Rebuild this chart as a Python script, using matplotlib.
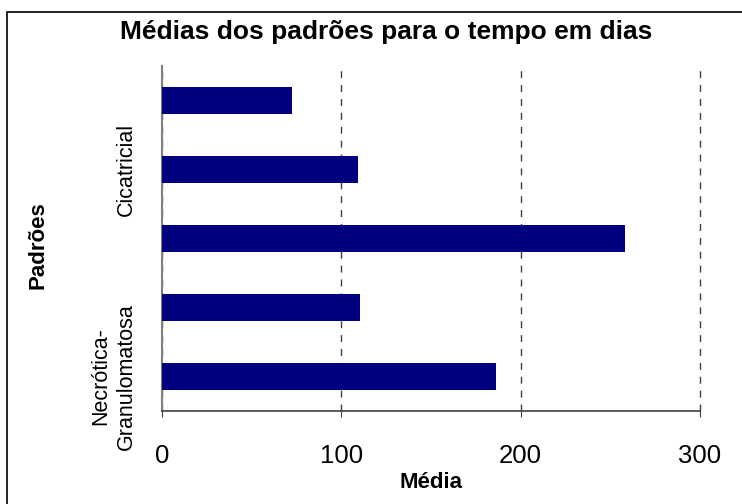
import numpy as np
import matplotlib.pyplot as plt
from matplotlib.patches import Rectangle

plt.rcParams['font.family'] = ['Liberation Sans', 'DejaVu Sans']

# categories from bottom to top (only two labels are shown in the original)
padroes = ['Necrótica-\nGranulomatosa', '', '', 'Cicatricial', '']
medias = [186, 110.5, 258, 109.5, 72.5]

fig = plt.figure(figsize=(7.42, 5.04), dpi=100)
ax = fig.add_axes([162 / 742, 1 - 411 / 504, (700 - 162) / 742, (411 - 66) / 504])

y = np.arange(len(padroes))
ax.barh(y, medias, height=0.4, color='#000080', zorder=3)

ax.set_xlim(0, 300)
ax.set_ylim(-0.5, len(padroes) - 0.5)
ax.set_xticks([0, 100, 200, 300])
ax.tick_params(axis='x', labelsize=18.5, length=4, direction='out', pad=20, color='#404040')
ax.set_yticks(y)
ax.set_yticklabels(padroes, rotation=90, va='center', ha='right', fontsize=15.5,
                   multialignment='center', linespacing=1.3)
ax.tick_params(axis='y', length=0, pad=18)

ax.grid(axis='x', linestyle=(0, (5, 5)), color='#404040', linewidth=1, zorder=0)
for gl in ax.get_xgridlines():
    gl.set_clip_on(False)
for s in ['top', 'right']:
    ax.spines[s].set_visible(False)
ax.spines['left'].set_color('#808080')
ax.spines['left'].set_linewidth(1.5)
ax.spines['bottom'].set_color('#404040')
ax.spines['bottom'].set_linewidth(1.2)

fig.text(431 / 742, 1 - 483 / 504, 'Média', fontsize=16, fontweight='bold',
         ha='center', va='center')
fig.text(38 / 742, 1 - 245 / 504, 'Padrões', rotation=90, fontsize=16, fontweight='bold',
         ha='center', va='center')
fig.text(386 / 742, 1 - 32 / 504, 'Médias dos padrões para o tempo em dias', fontsize=19,
         fontweight='bold', ha='center', va='center')

fig.patches.append(Rectangle((7 / 742, -0.01), 742, 1 - 12 / 504 + 0.01, transform=fig.transFigure,
                             fill=False, edgecolor='black', linewidth=1.2))

fig.savefig('out.png', dpi=100)
